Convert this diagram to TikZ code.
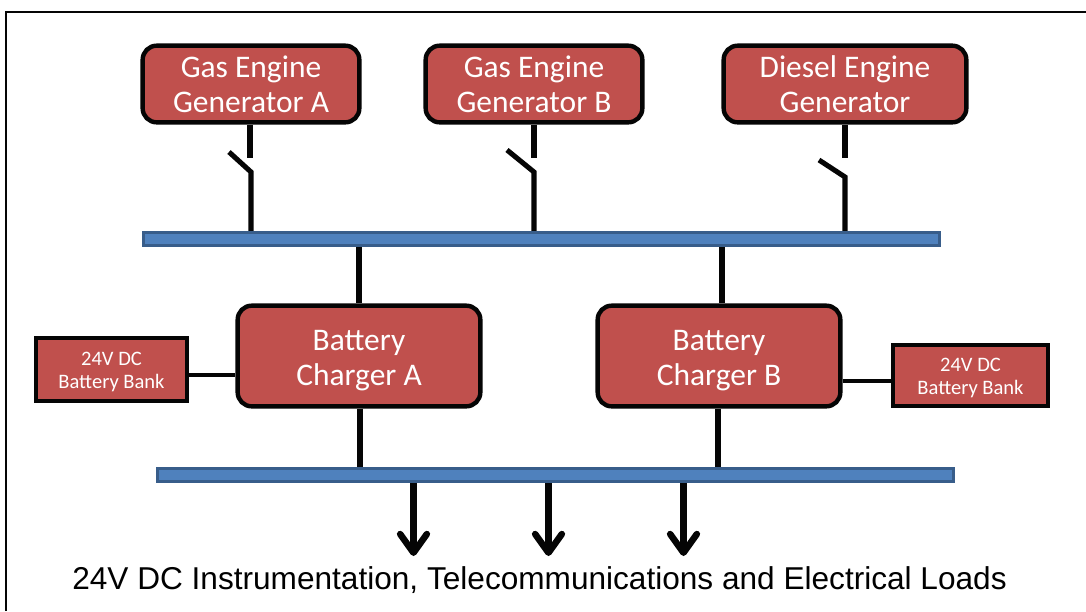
\documentclass[tikz,border=0pt]{standalone}
\usepackage{fontspec}
\setmainfont{Carlito}
\newfontfamily\labelfont{Liberation Sans}
\usetikzlibrary{arrows.meta}
\definecolor{boxred}{RGB}{192,80,77}
\definecolor{busfill}{RGB}{79,129,189}
\definecolor{busline}{RGB}{56,93,138}
\definecolor{inkblack}{RGB}{5,5,5}
\newcommand{\toppad}[1]{\vrule height #1 width 0pt\relax}
\tikzset{
  px/.style={x=0.75pt,y=-0.75pt},
  bigbox/.style={draw=inkblack,line width=3.3pt,fill=boxred,rounded corners=10.5pt,text=white,
    inner sep=0pt,align=center,font=\fontsize{23.6}{26.2}\selectfont},
  bankbox/.style={draw=inkblack,line width=2.6pt,fill=boxred,text=white,
    inner sep=0pt,align=center,font=\fontsize{15.4}{16.8}\selectfont},
  busbar/.style={draw=busline,line width=2.2pt,fill=busfill,inner sep=0pt},
  wire/.style={draw=inkblack,line width=3.8pt},
  stubwire/.style={draw=inkblack,line width=4.4pt},
  thinwire/.style={draw=inkblack,line width=2.6pt},
  loadarrow/.style={draw=inkblack,line width=4.9pt,-{Straight Barb[length=14pt,width=20pt,line width=4.9pt,round]}},
  frameline/.style={draw=inkblack,line width=1.5pt},
}
\begin{document}
\begin{tikzpicture}[px]
\useasboundingbox (0,0) rectangle (1086,611);
\fill[white] (0,0) rectangle (1086,611);
\draw[frameline] (6,611) -- (6,12) -- (1086,12);

\node[bigbox,minimum width=162.5pt,minimum height=57.5pt] (genA) at (251,84) {\toppad{16.5pt}Gas Engine\\Generator A};
\node[bigbox,minimum width=162.5pt,minimum height=57.5pt] (genB) at (534,84) {\toppad{16.5pt}Gas Engine\\Generator B};
\node[bigbox,minimum width=182pt,minimum height=57.5pt] (genC) at (845,84) {\toppad{16.5pt}Diesel Engine\\Generator};

\node[busbar,minimum width=597.5pt,minimum height=10pt] (busT) at (541.5,239) {};
\node[busbar,minimum width=597.5pt,minimum height=10pt] (busB) at (555.5,475) {};

\node[bigbox,minimum width=182pt,minimum height=75.5pt] (chgA) at (359,356) {\toppad{21.5pt}Battery\\Charger A};
\node[bigbox,minimum width=182pt,minimum height=75.5pt] (chgB) at (719,356) {\toppad{21.5pt}Battery\\Charger B};

\node[bankbox,minimum width=113.2pt,minimum height=47.2pt] (bankA) at (111.5,369.5) {\toppad{14pt}24V DC\\Battery Bank};
\node[bankbox,minimum width=116.2pt,minimum height=45.7pt] (bankB) at (970.5,375.5) {\toppad{14pt}24V DC\\Battery Bank};

% generator switches
\coordinate (swAtop) at (250,158);
\coordinate (swAarm) at (229,152);
\coordinate (swApiv) at (251,172);
\coordinate (swBtop) at (534,158);
\coordinate (swBarm) at (507,150);
\coordinate (swBpiv) at (534,172);
\coordinate (swCtop) at (845,158);
\coordinate (swCarm) at (819,160);
\coordinate (swCpiv) at (845,177);
\draw[stubwire] (genA.south -| swAtop) -- (swAtop);
\draw[wire,line join=miter] (swAarm) -- (swApiv) -- (busT.north -| swApiv);
\draw[stubwire] (genB.south -| swBtop) -- (swBtop);
\draw[wire,line join=miter] (swBarm) -- (swBpiv) -- (busT.north -| swBpiv);
\draw[stubwire] (genC.south -| swCtop) -- (swCtop);
\draw[wire,line join=miter] (swCarm) -- (swCpiv) -- (busT.north -| swCpiv);

% bus to chargers
\coordinate (tapA) at (359,300);
\coordinate (tapB) at (722,300);
\coordinate (tapC) at (360,450);
\coordinate (tapD) at (718,450);
\draw[wire] (busT.south -| tapA) -- (chgA.north -| tapA);
\draw[wire] (busT.south -| tapB) -- (chgB.north -| tapB);
\draw[wire] (chgA.south -| tapC) -- (busB.north -| tapC);
\draw[wire] (chgB.south -| tapD) -- (busB.north -| tapD);

% battery banks
\coordinate (levA) at (200,375);
\coordinate (levB) at (860,381);
\draw[thinwire] (bankA.east |- levA) -- (chgA.west |- levA);
\draw[thinwire] (chgB.east |- levB) -- (bankB.west |- levB);

% loads
\coordinate (loadA) at (413.5,556);
\coordinate (loadB) at (548.5,556);
\coordinate (loadC) at (683.5,556);
\draw[loadarrow] (busB.south -| loadA) -- (loadA);
\draw[loadarrow] (busB.south -| loadB) -- (loadB);
\draw[loadarrow] (busB.south -| loadC) -- (loadC);

\node[inner sep=0pt,text=black,font=\labelfont\fontsize{23.7}{26}\selectfont] (loadtxt) at (539.5,580.5) {24V DC Instrumentation, Telecommunications and Electrical Loads};
\end{tikzpicture}
\end{document}
